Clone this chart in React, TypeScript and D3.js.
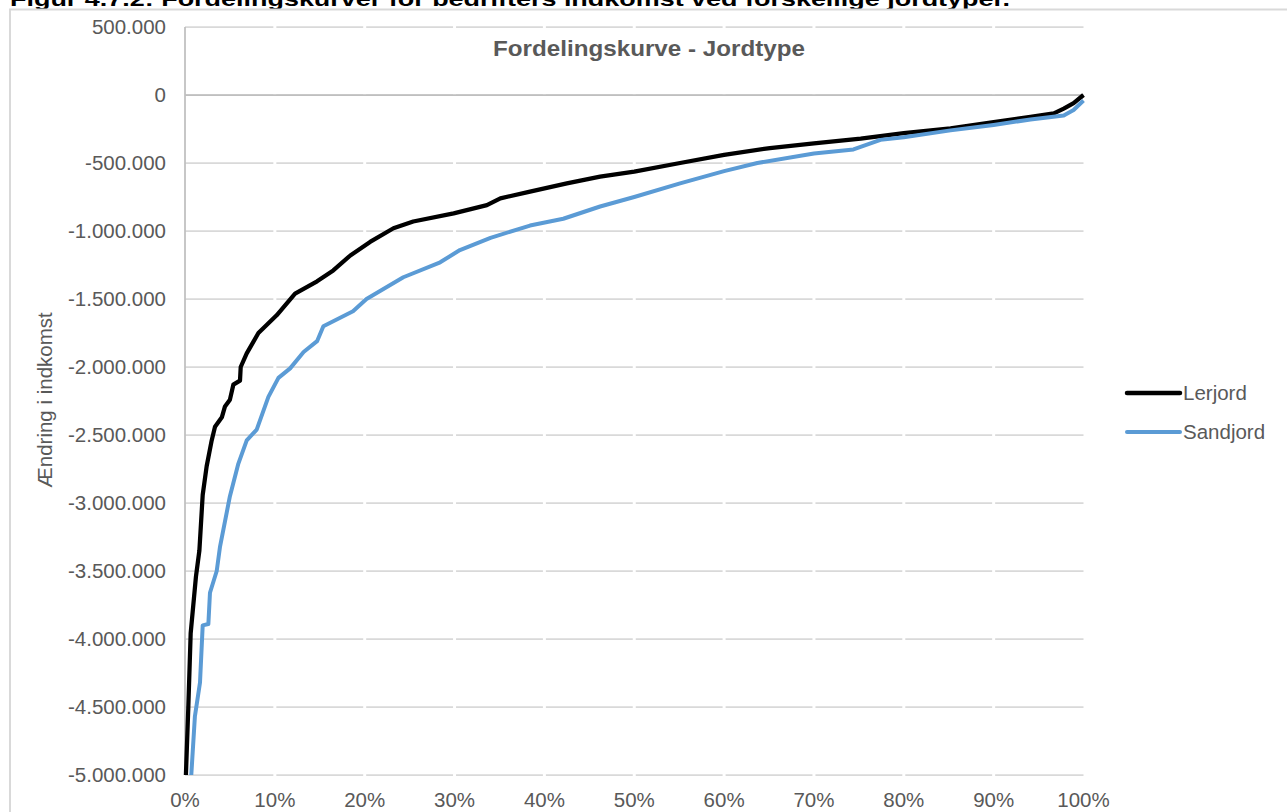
import React from 'react';
import * as d3 from 'd3';

// Fordelingskurver (x = andel af bedrifter i %, y = ændring i indkomst i kr.)
const lerjordX = [0.1, 0.37, 0.63, 1.22, 1.6, 1.97, 2.41, 2.97, 3.34, 4.1, 4.45, 5.0, 5.38, 6.12, 6.2, 6.87, 8.17, 10.2, 12.25, 14.7, 16.5, 18.4, 20.6, 23.2, 25.4, 29.9, 33.6, 35.1, 38.4, 42.5, 46.2, 50, 55.1, 60, 65.1, 70, 75.2, 80, 85.2, 90, 94.1, 96.7, 97.8, 98.9, 100];
const lerjordY = [-5000000, -4500000, -3960000, -3540000, -3350000, -2940000, -2730000, -2540000, -2440000, -2370000, -2290000, -2240000, -2130000, -2100000, -2000000, -1900000, -1750000, -1620000, -1460000, -1370000, -1290000, -1180000, -1080000, -980000, -930000, -870000, -810000, -760000, -710000, -650000, -600000, -564000, -500000, -440000, -390000, -355000, -320000, -280000, -245000, -200000, -160000, -135000, -100000, -60000, 0];

const sandjordX = [0.7, 1.1, 1.67, 1.97, 2.6, 2.78, 3.53, 3.9, 5.0, 5.94, 6.87, 7.98, 9.28, 10.4, 11.7, 13.2, 14.7, 15.4, 18.7, 20.2, 24.3, 28.4, 30.6, 34.0, 38.4, 42.1, 46.2, 50, 55.1, 60, 63.7, 70, 74.4, 77.4, 80, 85.2, 90, 94.1, 97.8, 98.9, 100];
const sandjordY = [-5000000, -4570000, -4320000, -3900000, -3890000, -3660000, -3500000, -3320000, -2950000, -2710000, -2540000, -2460000, -2220000, -2080000, -2010000, -1890000, -1810000, -1700000, -1590000, -1500000, -1340000, -1230000, -1140000, -1050000, -960000, -910000, -820000, -750000, -650000, -560000, -500000, -430000, -400000, -330000, -310000, -260000, -220000, -180000, -150000, -110000, -40000];

const seriesNames = ['Lerjord', 'Sandjord'];
const seriesColors = ['#000000', '#5b9bd5'];

const yTicks = [500000, 0, -500000, -1000000, -1500000, -2000000, -2500000, -3000000, -3500000, -4000000, -4500000, -5000000];
const xTicks = [0, 10, 20, 30, 40, 50, 60, 70, 80, 90, 100];

const caption = 'Figur 4.7.2: Fordelingskurver for bedrifters indkomst ved forskellige jordtyper.';
const chartTitle = 'Fordelingskurve - Jordtype';
const yTitle = 'Ændring i indkomst';

const W = 1287;
const H = 812;
const PLOT = { left: 185, right: 1083.5, top: 27, bottom: 775 };
const FONT = 'Arial, "Liberation Sans", sans-serif';
const GRAY = '#595959';

const locale = d3.formatLocale({ decimal: ',', thousands: '.', grouping: [3], currency: ['', ' kr'], minus: '-' });
const fmt = locale.format(',d');

export default function App() {
  const x = d3.scaleLinear().domain([0, 100]).range([PLOT.left, PLOT.right]);
  const y = d3.scaleLinear().domain([-5000000, 500000]).range([PLOT.bottom, PLOT.top]);

  const line = d3.line<[number, number]>().x(d => x(d[0])).y(d => y(d[1]));
  const series = [
    lerjordX.map((v, i) => [v, lerjordY[i]] as [number, number]),
    sandjordX.map((v, i) => [v, sandjordY[i]] as [number, number]),
  ];

  return (
    <svg width={W} height={H} style={{ position: 'absolute', left: 0, top: 0, background: '#fff' }}>
      {/* figurtekst, delvist skåret af i toppen som i originalen */}
      <text x={10} y={5.5} fontFamily={FONT} fontWeight="bold" fontSize={20} fill="#000"
        textLength={1000} lengthAdjust="spacingAndGlyphs">{caption}</text>

      {/* diagramramme */}
      <rect x={10} y={9.5} width={W + 20} height={H + 20} fill="#fff" stroke="#d9d9d9" strokeWidth={2} />

      {/* vandrette gitterlinjer */}
      {yTicks.map(t => (
        <line key={'g' + t} x1={PLOT.left} x2={PLOT.right} y1={y(t)} y2={y(t)} stroke="#d9d9d9" strokeWidth={1.75} />
      ))}
      {/* små huller i gitterlinjerne ved hver 10% */}
      {xTicks.slice(1, -1).map(t => (
        <line key={'w' + t} x1={x(t)} x2={x(t)} y1={PLOT.top - 2} y2={PLOT.bottom + 2} stroke="#fff" strokeWidth={3} />
      ))}

      {/* akser */}
      <line x1={PLOT.left} x2={PLOT.right} y1={y(0)} y2={y(0)} stroke="#bfbfbf" strokeWidth={1.75} />
      <line x1={PLOT.left} x2={PLOT.left} y1={PLOT.top} y2={PLOT.bottom} stroke="#bfbfbf" strokeWidth={1.75} />

      {/* y-akse etiketter */}
      {yTicks.map(t => (
        <text key={'y' + t} x={166} y={y(t) + 7} textAnchor="end" fontFamily={FONT} fontSize={20.5} fill={GRAY}>{fmt(t)}</text>
      ))}
      {/* x-akse etiketter */}
      {xTicks.map(t => (
        <text key={'x' + t} x={x(t)} y={806.5} textAnchor="middle" fontFamily={FONT} fontSize={20.5} fill={GRAY}>{t + '%'}</text>
      ))}

      <text transform={`translate(52,400) rotate(-90)`} textAnchor="middle" fontFamily={FONT} fontSize={20.5} fill={GRAY}>{yTitle}</text>
      <text x={649} y={56} textAnchor="middle" fontFamily={FONT} fontSize={22} fontWeight="bold" fill={GRAY}
        textLength={312} lengthAdjust="spacingAndGlyphs">{chartTitle}</text>

      {/* kurver */}
      {series.map((s, i) => (
        <path key={seriesNames[i]} d={line(s) || ''} fill="none" stroke={seriesColors[i]} strokeWidth={i === 0 ? 4.25 : 4} strokeLinejoin="round" />
      ))}

      {/* forklaring */}
      {seriesNames.map((n, i) => (
        <g key={'l' + n} transform={`translate(0,${393 + i * 39})`}>
          <line x1={1127} x2={1180} y1={0} y2={0} stroke={seriesColors[i]} strokeWidth={i === 0 ? 4.5 : 4} strokeLinecap="round" />
          <text x={1183} y={7} fontFamily={FONT} fontSize={20.5} fill={GRAY}>{n}</text>
        </g>
      ))}
    </svg>
  );
}
